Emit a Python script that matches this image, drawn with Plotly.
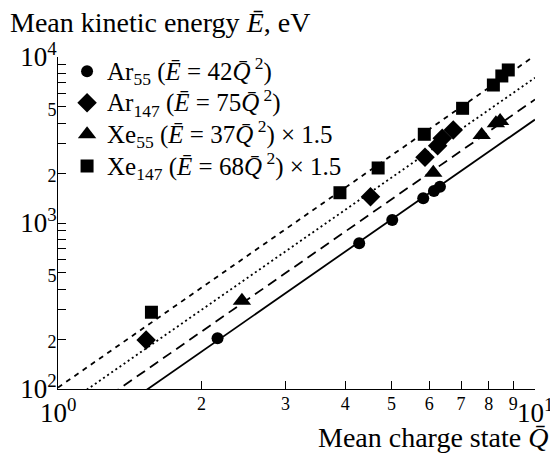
import math
import plotly.graph_objects as go

# ---- data ----
ar55_q = [2.16, 4.28, 5.02, 5.83, 6.14, 6.32]
ar55_e = [202, 754, 1042, 1409, 1559, 1655]

ar147_q = [1.53, 4.52, 5.88, 6.25, 6.39, 6.74]
ar147_e = [197, 1440, 2487, 2922, 3236, 3633]

xe55_q = [2.43, 6.12, 7.73, 8.28, 8.45]
xe55_e = [340, 2010, 3390, 3988, 4115]

xe147_q = [1.57, 3.90, 4.69, 5.86, 7.05, 8.18, 8.52, 8.79]
xe147_e = [290, 1522, 2145, 3423, 4909, 6780, 7686, 8354]

# fit coefficients E = c * Q^2  (Xe scaled by 1.5)
fit_coef = [42, 75, 37 * 1.5, 68 * 1.5]
fit_dash = ["solid", "2px,3px", "10px,6px", "5px,5px"]
q_span = [1, 10]

LEG = '<span style="font-size:25px">%s</span>'
legend_names = [
    LEG % "Ar<sub>55</sub> (<i>Ē</i> = 42<i>Q̄</i><sup> 2</sup>)",
    LEG % "Ar<sub>147</sub> (<i>Ē</i> = 75<i>Q̄</i><sup> 2</sup>)",
    LEG % "Xe<sub>55</sub> (<i>Ē</i> = 37<i>Q̄</i><sup> 2</sup>) × 1.5",
    LEG % "Xe<sub>147</sub> (<i>Ē</i> = 68<i>Q̄</i><sup> 2</sup>) × 1.5",
]

BIG = '10<sup>%d</sup>'
SMALL = '<span style="font-size:18px">%s</span>'
x_tickvals = [1, 2, 3, 4, 5, 6, 7, 8, 9, 10]
x_ticktext = ["", "2", "3", "4", "5", "6", "7", "8", "9", ""]
x_decades = [1, 10]          # decade labels drawn slightly lower, as in the reference

y_tickvals = [100, 200, 300, 400, 500, 600, 700, 800, 900,
              1000, 2000, 3000, 4000, 5000, 6000, 7000, 8000, 9000, 10000]
y_ticktext = [BIG % 2, SMALL % "2", "", "", SMALL % "5", "", "", "", "",
              BIG % 3, SMALL % "2", "", "", SMALL % "5", "", "", "", "",
              BIG % 4]

FONT = "Liberation Serif"

fig = go.Figure()

for c, d in zip(fit_coef, fit_dash):
    fig.add_trace(go.Scatter(
        x=q_span, y=[c * q * q for q in q_span], mode="lines",
        line=dict(color="black", width=1.8, dash=d),
        showlegend=False, hoverinfo="skip"))

series = [
    (ar55_q, ar55_e, "circle", 12),
    (ar147_q, ar147_e, "diamond", 15),
    (xe55_q, xe55_e, "triangle-up", 16),
    (xe147_q, xe147_e, "square", 13),
]
for (q, e, sym, sz), name in zip(series, legend_names):
    fig.add_trace(go.Scatter(
        x=q, y=e, mode="markers", name=name,
        marker=dict(symbol=sym, size=sz, color="black", line=dict(width=0)),
        cliponaxis=False))

annotations = [
    dict(text="Mean kinetic energy <i>Ē</i>, eV", xref="paper", yref="paper",
         x=-0.105, y=1.0, yshift=35, xanchor="left", yanchor="middle",
         showarrow=False, font=dict(size=28, family=FONT)),
    dict(text="Mean charge state <i>Q̄</i>", xref="paper", yref="paper",
         x=1.031, y=0, yshift=-48, xanchor="right", yanchor="middle",
         showarrow=False, font=dict(size=28, family=FONT)),
]
for v in x_decades:
    annotations.append(dict(
        text="10<sup>%d</sup>" % round(math.log10(v)), xref="x", yref="paper",
        x=math.log10(v), y=0, yshift=-22, xanchor="center", yanchor="middle",
        showarrow=False, font=dict(size=27, family=FONT)))

# the page body has an 8px default margin, so the figure is 8px smaller
fig.update_layout(
    width=550, height=448,
    margin=dict(l=50, r=23, t=49, b=67, autoexpand=False),
    paper_bgcolor="white", plot_bgcolor="white",
    font=dict(family=FONT, size=18, color="black"),
    showlegend=True,
    legend=dict(x=0.019, y=1.02, xanchor="left", yanchor="top",
                bgcolor="rgba(0,0,0,0)", font=dict(size=22, family=FONT),
                itemwidth=30, tracegroupgap=0),
    xaxis=dict(type="log", range=[0, 1], showgrid=False, zeroline=False,
               automargin=False,
               showline=True, linecolor="black", linewidth=1,
               ticks="inside", ticklen=8, tickcolor="black", tickwidth=1,
               tickmode="array", tickvals=x_tickvals, ticktext=x_ticktext,
               tickangle=0, ticklabelstandoff=-2,
               tickfont=dict(size=18, family=FONT)),
    yaxis=dict(type="log", range=[2, 4], showgrid=False, zeroline=False,
               automargin=False,
               showline=True, linecolor="black", linewidth=1,
               ticks="inside", ticklen=8, tickcolor="black", tickwidth=1,
               tickmode="array", tickvals=y_tickvals, ticktext=y_ticktext,
               ticklabelstandoff=-5,
               tickfont=dict(size=27, family=FONT)),
    annotations=annotations,
)

fig.write_html("out.html")
